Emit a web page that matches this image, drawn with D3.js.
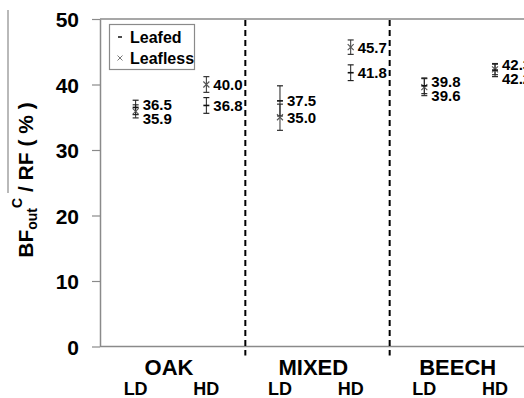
<!DOCTYPE html>
<html>
<head>
<meta charset="utf-8">
<script src="https://cdn.jsdelivr.net/npm/d3@7"></script>
<style>
  html, body { margin: 0; padding: 0; background: #fff; }
  svg { display: block; font-family: Arial, "Liberation Sans", sans-serif; }
</style>
</head>
<body>
<svg id="chart" width="524" height="398"></svg>
<script>
// Stand types and canopy density classes
const stands = ["OAK", "MIXED", "BEECH"];
const densities = ["LD", "HD"];

// Mean values (%) in order OAK-LD, OAK-HD, MIXED-LD, MIXED-HD, BEECH-LD, BEECH-HD
const leafedMean   = [36.5, 36.8, 37.5, 41.8, 39.8, 42.2];
const leafedErr    = [1.1, 1.2, 2.3, 1.2, 1.2, 1.0];
const leaflessMean = [35.9, 40.0, 35.0, 45.7, 39.6, 42.3];
const leaflessErr  = [1.0, 1.2, 2.0, 1.1, 1.3, 0.8];

const yTicks = [0, 10, 20, 30, 40, 50];
const seriesNames = ["Leafed", "Leafless"];

const svg = d3.select("#chart");
const W = 524, H = 398;
const plotLeft = 100, plotTop = 19, plotBottom = 346.5, plotRight = 534;
const axisGrey = "#8a8a8a";

const y = d3.scaleLinear().domain([0, 50]).range([plotBottom, plotTop]);
const xGroup = d3.scaleBand().domain(stands).range([101, plotRight]);
const bw = xGroup.bandwidth();
const xSub = d3.scalePoint().domain(densities).range([bw * 0.24, bw * 0.73]);

// Flatten the records
const records = [];
stands.forEach((s, i) => densities.forEach((d, j) => {
  const k = i * 2 + j;
  records.push({ stand: s, dens: d, cx: xGroup(s) + xSub(d),
    leafed: { m: leafedMean[k], e: leafedErr[k] },
    leafless: { m: leaflessMean[k], e: leaflessErr[k] } });
}));

// Frame: top border and x baseline
svg.append("line").attr("x1", plotLeft).attr("x2", W).attr("y1", plotTop).attr("y2", plotTop)
  .attr("stroke", axisGrey).attr("stroke-width", 1.5);
svg.append("line").attr("x1", plotLeft).attr("x2", W).attr("y1", plotBottom).attr("y2", plotBottom)
  .attr("stroke", axisGrey).attr("stroke-width", 1.5);

// Y axis
const yAxis = svg.append("g").attr("transform", `translate(${plotLeft},0)`)
  .call(d3.axisLeft(y).tickValues(yTicks).tickSize(8).tickPadding(13).tickSizeOuter(0));
yAxis.select(".domain").attr("stroke", axisGrey).attr("stroke-width", 1.5);
yAxis.selectAll(".tick line").attr("stroke", axisGrey).attr("stroke-width", 1.2);
yAxis.selectAll(".tick text").attr("fill", "#000").attr("font-size", 21)
  .attr("font-weight", "bold").attr("font-family", "Arial, 'Liberation Sans', sans-serif")
  .attr("dy", "0.36em");

// Dashed separators between stands
stands.slice(1).forEach(s => {
  svg.append("line").attr("x1", xGroup(s)).attr("x2", xGroup(s))
    .attr("y1", plotTop + 1).attr("y2", plotBottom + 9)
    .attr("stroke", "#000").attr("stroke-width", 2).attr("stroke-dasharray", "6,4");
});

// Y axis title with overline
const title = svg.append("text")
  .attr("transform", `translate(33,${(263 + 97) / 2}) rotate(-90)`)
  .attr("text-anchor", "middle").attr("font-size", 21).attr("font-weight", "bold").attr("fill", "#000");
title.append("tspan").text("BF");
title.append("tspan").attr("font-size", 14).attr("dy", 4).text("out");
title.append("tspan").attr("font-size", 14).attr("dy", -15).text("C");
title.append("tspan").attr("dy", 11).text(" / RF ( % )");
svg.append("line").attr("x1", 8).attr("x2", 8).attr("y1", 10).attr("y2", 193)
  .attr("stroke", axisGrey).attr("stroke-width", 1.2);

// Group and density labels
stands.forEach(s => {
  const cx = xGroup(s) + (xSub("LD") + xSub("HD")) / 2 - 2;
  svg.append("text").attr("x", cx).attr("y", 375).attr("text-anchor", "middle")
    .attr("font-size", 22).attr("font-weight", "bold").text(s);
  densities.forEach(d => {
    svg.append("text").attr("x", xGroup(s) + xSub(d)).attr("y", 395).attr("text-anchor", "middle")
      .attr("font-size", 18).attr("font-weight", "bold").text(d);
  });
});

// Error bars and markers
function errorBar(g, cx, m, e, colour) {
  const cap = 3;
  g.append("line").attr("x1", cx).attr("x2", cx).attr("y1", y(m - e)).attr("y2", y(m + e))
    .attr("stroke", colour).attr("stroke-width", 1);
  [m - e, m + e].forEach(v => g.append("line").attr("x1", cx - cap).attr("x2", cx + cap)
    .attr("y1", y(v)).attr("y2", y(v)).attr("stroke", colour).attr("stroke-width", 1.2));
}
function markerDash(g, cx, cy) {
  g.append("line").attr("x1", cx - 3).attr("x2", cx + 3).attr("y1", cy).attr("y2", cy)
    .attr("stroke", "#111").attr("stroke-width", 1.6);
}
function markerCross(g, cx, cy) {
  const r = 3;
  g.append("path").attr("d", `M${cx - r},${cy - r}L${cx + r},${cy + r}M${cx - r},${cy + r}L${cx + r},${cy - r}`)
    .attr("stroke", "#555").attr("stroke-width", 1.1).attr("fill", "none");
}

const marks = svg.append("g");
records.forEach(r => {
  errorBar(marks, r.cx, r.leafless.m, r.leafless.e, "#333");
  errorBar(marks, r.cx, r.leafed.m, r.leafed.e, "#222");
  markerCross(marks, r.cx, y(r.leafless.m));
  markerDash(marks, r.cx, y(r.leafed.m));

  // Value labels, pushed apart when too close
  const pair = [r.leafed.m, r.leafless.m].map(v => ({ v, py: y(v) })).sort((a, b) => a.py - b.py);
  const minGap = 14;
  if (pair[1].py - pair[0].py < minGap) {
    const mid = (pair[0].py + pair[1].py) / 2 + 2;
    pair[0].py = mid - minGap / 2;
    pair[1].py = mid + minGap / 2;
  }
  pair.forEach(p => {
    svg.append("text").attr("x", r.cx + 7).attr("y", p.py).attr("dy", "0.36em")
      .attr("font-size", 15).attr("font-weight", "bold").attr("fill", "#000")
      .text(d3.format(".1f")(p.v));
  });
});

// Legend
const lg = svg.append("g");
lg.append("rect").attr("x", 109.5).attr("y", 24.5).attr("width", 85).attr("height", 45)
  .attr("fill", "#fff").attr("stroke", axisGrey).attr("stroke-width", 1.2);
seriesNames.forEach((name, i) => {
  const cy = 37 + i * 21;
  if (i === 0) {
    lg.append("line").attr("x1", 118).attr("x2", 122).attr("y1", cy).attr("y2", cy)
      .attr("stroke", "#111").attr("stroke-width", 1.5);
  } else {
    lg.append("path").attr("d", `M117.5,${cy - 2.5}L122.5,${cy + 2.5}M117.5,${cy + 2.5}L122.5,${cy - 2.5}`)
      .attr("stroke", "#777").attr("stroke-width", 1).attr("fill", "none");
  }
  lg.append("text").attr("x", 130).attr("y", cy).attr("dy", "0.36em")
    .attr("font-size", 16).attr("font-weight", "bold").text(name);
});
</script>
</body>
</html>
